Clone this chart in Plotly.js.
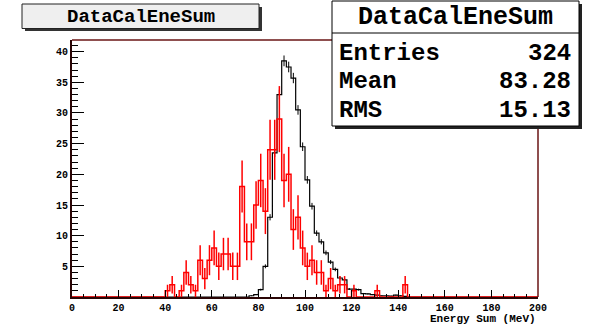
<!DOCTYPE html>
<html>
<head>
<meta charset="utf-8">
<script src="https://cdn.plot.ly/plotly-3.0.1.min.js"></script>
<style>
  html, body { margin: 0; padding: 0; background: #fff; }
  #plot { width: 590px; height: 324px; }
</style>
</head>
<body>
<div id="plot"></div>
<script>
// Histogram binning: 100 bins of 2 MeV over 0-200 MeV
const binLow = 0;
const binWidth = 2;

// Measured energy sum (counts per bin)
const dataCounts = [
  0,0,0,0,0,0,0,0,0,0,   0,0,0,0,0,0,0,0,0,0,
  1,2,0,1,4,2,1,6,3,6,   8,5,7,7,5,5,18,9,9,15,
  19,14,24,24,29,19,20,11,13,8,   5,6,4,4,1,3,1,2,2,0,
  1,0,0,0,0,1,0,0,0,0,   0,2,0,0,0,0,0,0,0,0,
  0,0,0,0,0,0,0,0,0,0,   0,0,0,0,0,0,0,0,0,0
];

// Simulated energy sum, normalised (weighted entries per bin)
const simCounts = [
  0,0,0,0,0,0,0,0,0,0,   0,0,0,0,0,0,0,0,0,0,
  0,0,0,0,0,0,0,0,0,0,   0,0,0,0,0,0,0,0,0.2,0.4,
  1.2,5,13,23.5,33,38.5,37.5,35.7,30.5,24.5,
  19.1,14.8,10.4,9.0,7.2,5.7,4.5,3.1,2.8,1.3,
  1.3,1.2,0.55,0.5,0.4,0.3,0.2,0.2,0.15,0.3,
  0.2,0.1,0,0,0,0,0,0,0,0,
  0,0,0,0,0,0,0,0,0,0,   0,0,0,0,0,0,0,0,0,0
];
const simWeight = 0.02;   // per-event weight of the simulated sample

// Axis ticks and labels
const xTickVals = [0, 20, 40, 60, 80, 100, 120, 140, 160, 180, 200];
const xTickText = ['0','20','40','60','80','100','120','140','160','180','200'];
const yTickVals = [5, 10, 15, 20, 25, 30, 35, 40];
const yTickText = ['5','10','15','20','25','30','35','40'];

// Statistics box contents
const histName = 'DataCalEneSum';
const statLabels = ['Entries', 'Mean', 'RMS'];
const statValues = ['324', '83.28', '15.13'];
const xTitle = 'Energy Sum (MeV)';

function edges(n) {
  const e = [];
  for (let i = 0; i <= n; i++) e.push(binLow + i * binWidth);
  return e;
}
function centers(n) {
  const c = [];
  for (let i = 0; i < n; i++) c.push(binLow + (i + 0.5) * binWidth);
  return c;
}
function stepTrace(counts, color, width) {
  return {
    type: 'scatter', mode: 'lines',
    x: edges(counts.length),
    y: counts.concat([counts[counts.length - 1]]),
    line: { shape: 'hv', color: color, width: width },
    hoverinfo: 'skip', showlegend: false
  };
}
function errorTrace(counts, errs, color, thickness) {
  const xs = [], ys = [], es = [];
  const c = centers(counts.length);
  counts.forEach((v, i) => { if (v > 0) { xs.push(c[i]); ys.push(v); es.push(errs[i]); } });
  return {
    type: 'scatter', mode: 'markers',
    x: xs, y: ys,
    marker: { size: 2, color: 'rgba(0,0,0,0)' },
    error_y: { type: 'data', array: es, visible: true, width: 0, color: color, thickness: thickness },
    hoverinfo: 'skip', showlegend: false
  };
}

const dataErr = dataCounts.map(v => Math.sqrt(v));
const simErr = simCounts.map(v => Math.sqrt(v * simWeight));

const traces = [
  stepTrace(simCounts, '#000000', 1.2),
  errorTrace(simCounts, simErr, '#000000', 1),
  stepTrace(dataCounts, '#ff0000', 1.5),
  errorTrace(dataCounts, dataErr, '#ff0000', 1.5)
];

// pixel -> paper helpers for the decorations around the frame
const L = 72, R = 538, T = 40, B = 297;
const PX = px => (px - L) / (R - L);
const PY = py => (B - py) / (B - T);

const mono = 'Liberation Mono, DejaVu Sans Mono, monospace';
const frameColor = '#6a1414';

const shapes = [
  // top and right frame edges
  { type: 'line', xref: 'paper', yref: 'paper', x0: 0, x1: 1, y0: 1, y1: 1, line: { color: frameColor, width: 1.5 }, layer: 'above' },
  { type: 'line', xref: 'paper', yref: 'paper', x0: 1, x1: 1, y0: 0, y1: 1, line: { color: frameColor, width: 1.5 }, layer: 'above' },
  // title box with shadow
  { type: 'rect', xref: 'paper', yref: 'paper', x0: PX(25), x1: PX(262), y0: PY(31), y1: PY(7), fillcolor: '#333333', line: { width: 0 }, layer: 'above' },
  { type: 'rect', xref: 'paper', yref: 'paper', x0: PX(22), x1: PX(259), y0: PY(28.5), y1: PY(4), fillcolor: '#efefef', line: { color: '#222222', width: 1 }, layer: 'above' },
  // statistics box with shadow
  { type: 'rect', xref: 'paper', yref: 'paper', x0: PX(335), x1: PX(582), y0: PY(129), y1: PY(4), fillcolor: '#222222', line: { width: 0 }, layer: 'above' },
  { type: 'rect', xref: 'paper', yref: 'paper', x0: PX(332), x1: PX(579), y0: PY(126), y1: PY(1), fillcolor: '#ffffff', line: { color: '#000000', width: 1 }, layer: 'above' },
  { type: 'line', xref: 'paper', yref: 'paper', x0: PX(332), x1: PX(579), y0: PY(33), y1: PY(33), line: { color: '#000000', width: 1 }, layer: 'above' }
];

const annotations = [
  { xref: 'paper', yref: 'paper', x: PX(140.5), y: PY(17), xanchor: 'center', yanchor: 'middle', showarrow: false,
    text: histName, font: { family: mono, size: 19, weight: 'bold', color: '#000' } },
  { xref: 'paper', yref: 'paper', x: PX(455.5), y: PY(17.5), xanchor: 'center', yanchor: 'middle', showarrow: false,
    text: histName, font: { family: mono, size: 25, weight: 'bold', color: '#000' } },
  { xref: 'paper', yref: 'paper', x: 1, y: PY(318.5), xanchor: 'right', yanchor: 'middle', showarrow: false,
    text: xTitle, font: { family: mono, size: 11, weight: 'bold', color: '#000' } }
];
const rowY = [53, 81.5, 110];
statLabels.forEach((lab, i) => {
  annotations.push({ xref: 'paper', yref: 'paper', x: PX(337), y: PY(rowY[i]), xanchor: 'left', yanchor: 'middle', showarrow: false,
    text: lab, font: { family: mono, size: 24, weight: 'bold', color: '#000' } });
  annotations.push({ xref: 'paper', yref: 'paper', x: PX(573), y: PY(rowY[i]), xanchor: 'right', yanchor: 'middle', showarrow: false,
    text: statValues[i], font: { family: mono, size: 24, weight: 'bold', color: '#000' } });
});

const tickFont = { family: mono, size: 10, weight: 'bold', color: '#000' };

const layout = {
  width: 590, height: 324,
  margin: { l: L, r: 590 - R, t: T, b: 324 - B, pad: 0 },
  paper_bgcolor: '#ffffff', plot_bgcolor: '#ffffff',
  showlegend: false,
  xaxis: {
    range: [0, 200], showgrid: false, zeroline: false,
    showline: true, linecolor: '#2a0505', linewidth: 2,
    tickmode: 'array', tickvals: xTickVals, ticktext: xTickText,
    ticks: 'inside', ticklen: 7, tickwidth: 1, tickcolor: '#000',
    minor: { tickmode: 'linear', tick0: 0, dtick: 5, ticks: 'inside', ticklen: 3.5, tickwidth: 1, tickcolor: '#000', showgrid: false },
    tickfont: tickFont
  },
  yaxis: {
    range: [0, 41.9], showgrid: false, zeroline: false,
    showline: true, linecolor: '#2a0505', linewidth: 2,
    tickmode: 'array', tickvals: yTickVals, ticktext: yTickText,
    ticks: 'inside', ticklen: 12, tickwidth: 1, tickcolor: '#000',
    minor: { tickmode: 'linear', tick0: 0, dtick: 1, ticks: 'inside', ticklen: 6, tickwidth: 1, tickcolor: '#000', showgrid: false },
    tickfont: tickFont
  },
  shapes: shapes,
  annotations: annotations
};

Plotly.newPlot('plot', traces, layout, { staticPlot: true, displayModeBar: false });
</script>
</body>
</html>
